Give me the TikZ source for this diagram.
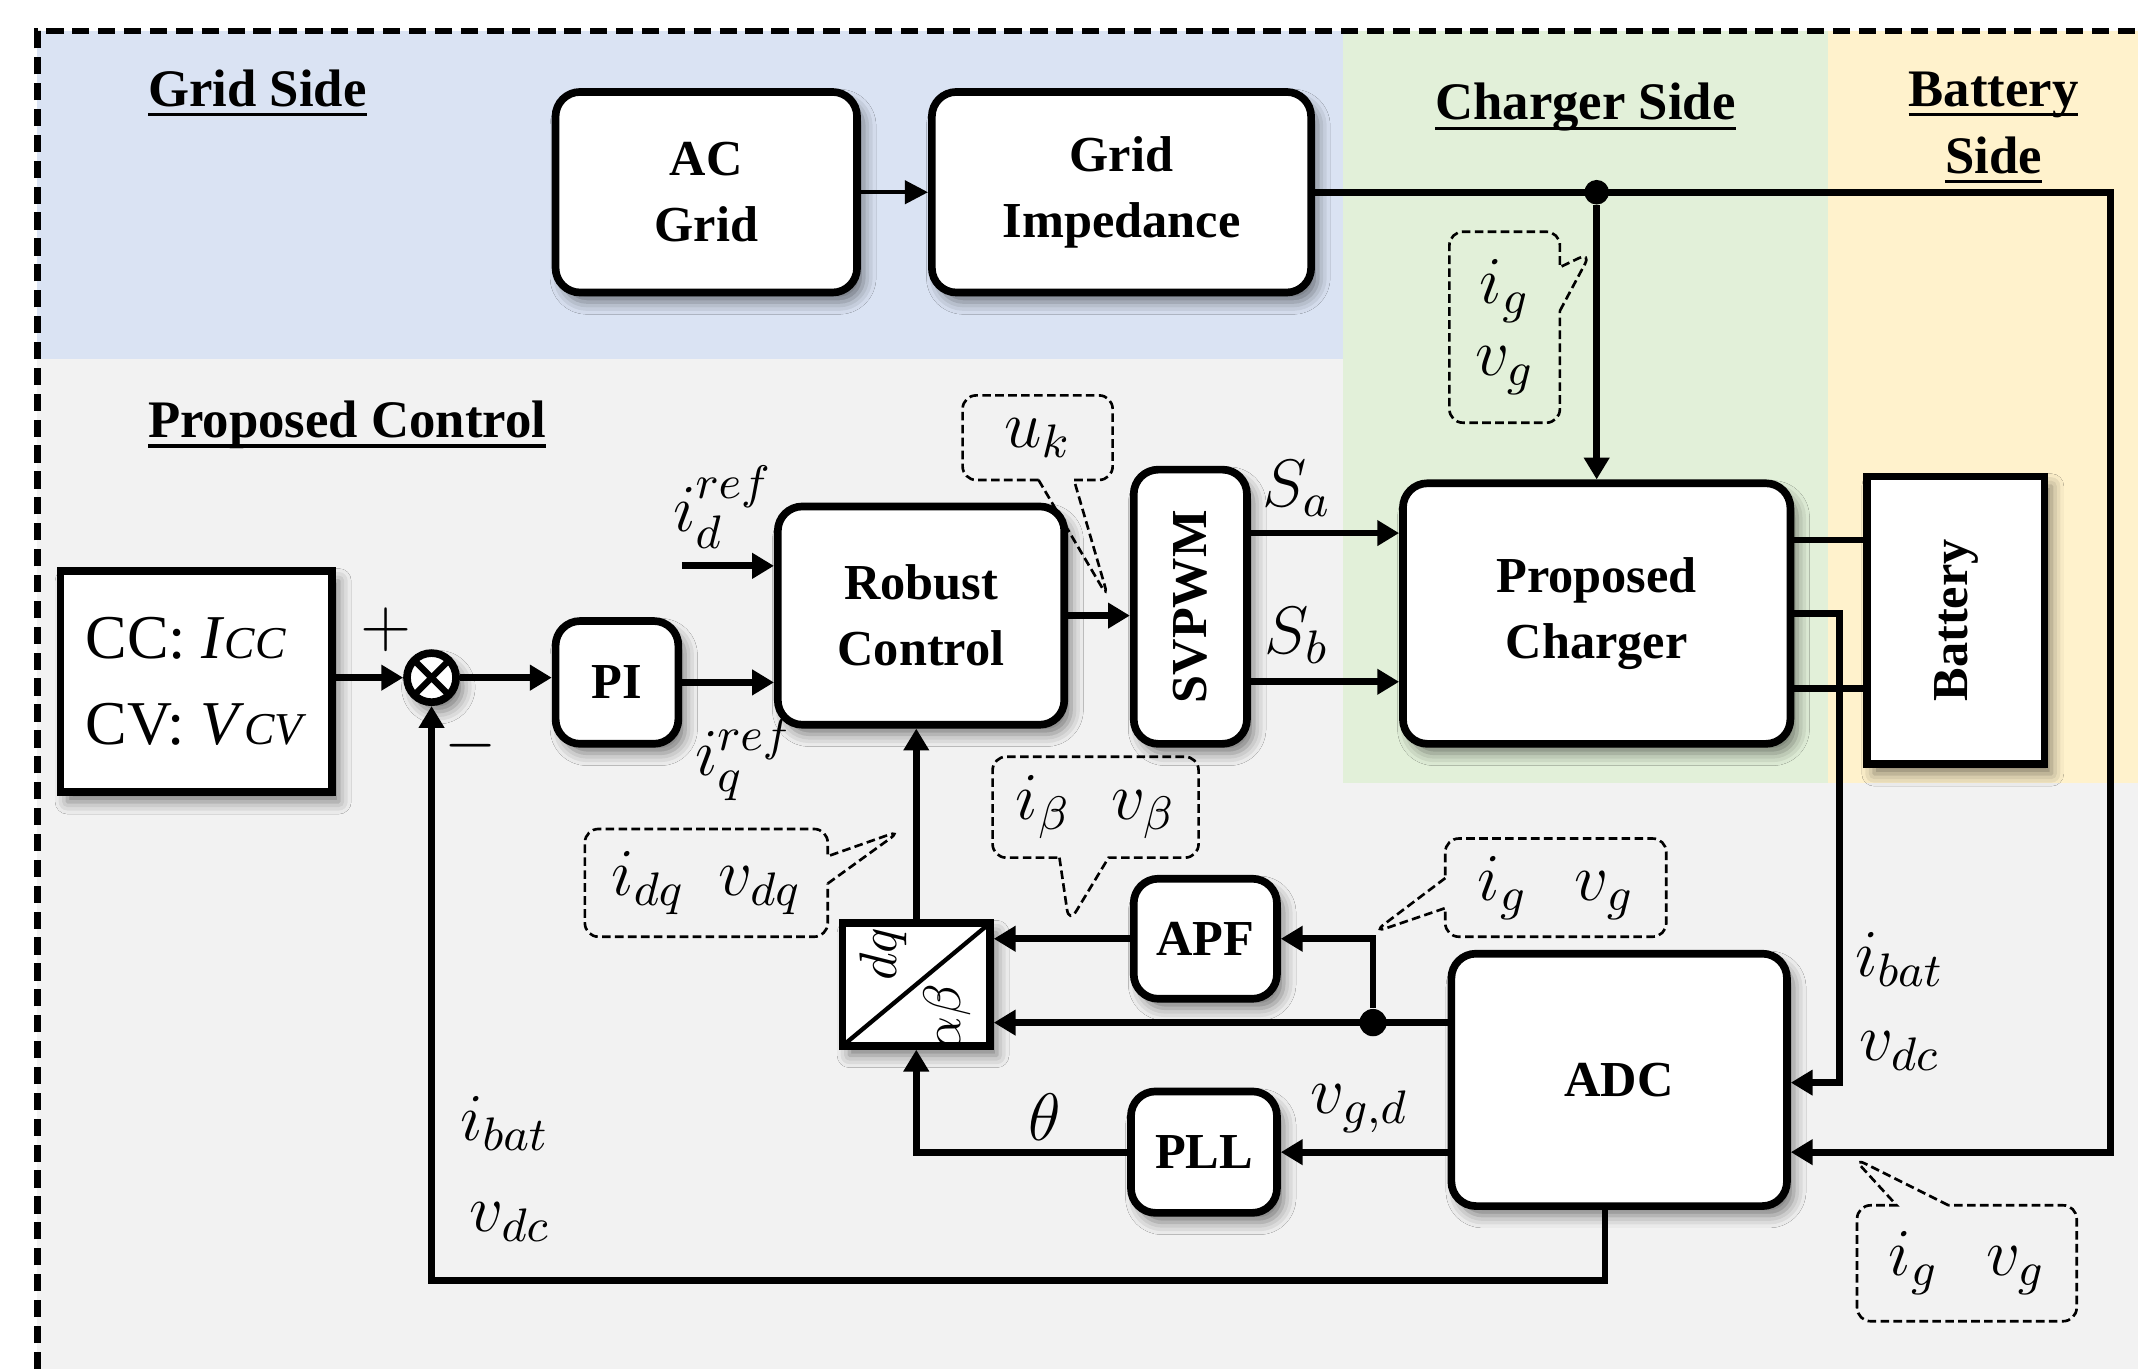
\RequirePackage{fix-cm}
\documentclass[tikz,border=0pt]{standalone}
\usepackage{fontspec}
\setmainfont{Liberation Serif}
\usepackage{graphicx}
\usetikzlibrary{arrows.meta,shapes.callouts,shadows.blur}

\definecolor{gridblue}{HTML}{DAE3F3}
\definecolor{chgreen}{HTML}{E2F0D9}
\definecolor{batyellow}{HTML}{FFF2CC}
\definecolor{ctrlgray}{HTML}{F2F2F2}

\newcommand{\ulined}[1]{\sbox0{#1}\rlap{\rule[-2.1pt]{\wd0}{0.7pt}}\usebox0}

\tikzset{
  shadowed/.style={blur shadow={shadow xshift=0.05cm, shadow yshift=-0.07cm, shadow blur radius=0.09cm, shadow opacity=50}},
  blockbox/.style={draw, line width=1.6pt, fill=white, rounded corners=0.18cm, align=center, inner sep=0pt,
     font=\fontsize{10.5}{13.7}\selectfont\bfseries, shadowed},
  sqbox/.style={blockbox, sharp corners},
  conn/.style={line width=1.4pt, -{Triangle[length=0.16cm,width=0.18cm]}},
  wire/.style={line width=1.4pt},
  jdot/.style={circle, fill=black, inner sep=0pt, minimum size=0.18cm},
  bubble/.style={rectangle callout, draw, line width=0.55pt, dash pattern=on 1.8pt off 0.9pt,
     rounded corners=0.1cm, callout pointer width=0.28cm, inner sep=0pt, font=\fontsize{14}{15}\selectfont},
  mlab/.style={font=\fontsize{14}{16}\selectfont, inner sep=0pt},
  ttl/.style={font=\fontsize{11}{13}\selectfont\bfseries, inner sep=0pt},
}

\begin{document}
\begin{tikzpicture}[x=0.01cm, y=-0.01cm]
\useasboundingbox (0,0) rectangle (1568,1004);
% background regions
\fill[ctrlgray] (27.5,23) rectangle (1568,1004);
\fill[gridblue] (27.5,23) rectangle (985,263);
\fill[chgreen] (985,23) rectangle (1341,574);
\fill[batyellow] (1341,23) rectangle (1568,574);
\draw[line width=1.3pt, dash pattern=on 3.6pt off 1.8pt] (27.5,1004) -- (27.5,23) -- (1568,23);

% titles
\node[ttl, anchor=base west] (tgrid) at (108,78) {\ulined{Grid Side}};
\node[ttl, anchor=base west] (tctrl) at (108,321) {\ulined{Proposed Control}};
\node[ttl, anchor=base west] (tchg) at (1052,88) {\ulined{Charger Side}};
\node[ttl, anchor=base] (tbat1) at (1462,78) {\ulined{Battery}};
\node[ttl, anchor=base] (tbat2) at (1462,127) {\ulined{Side}};

% blocks
\node[blockbox, minimum width=2.21cm, minimum height=1.47cm] (acgrid) at (518,141) {AC\\Grid};
\node[blockbox, minimum width=2.78cm, minimum height=1.47cm] (gridimp) at (822.5,141) {Grid\\Impedance};
\node[sqbox, minimum width=1.99cm, minimum height=1.62cm, font=\fontsize{13}{17.9}\selectfont, align=left] (cccv) at (144,500)
  {CC: \textit{I}{\fontsize{9.5}{10}\selectfont\textit{CC}}\\CV: \textit{V}{\fontsize{9.5}{10}\selectfont\textit{CV}}};
\node[circle, draw, line width=1.6pt, fill=white, minimum size=0.36cm, inner sep=0pt, shadowed,
  path picture={\draw[line width=1.3pt] (path picture bounding box.north west) -- (path picture bounding box.south east)
                 (path picture bounding box.south west) -- (path picture bounding box.north east);}] (sum) at (316.5,497) {};
\node[blockbox, minimum width=0.9cm, minimum height=0.9cm] (pi) at (452.5,500.5) {PI};
\node[blockbox, minimum width=2.1cm, minimum height=1.6cm] (robust) at (675.5,451.5) {Robust\\Control};
\node[blockbox, minimum width=0.83cm, minimum height=2.01cm] (svpwm) at (873,445) {\rotatebox{90}{SVPWM}};
\node[blockbox, minimum width=2.84cm, minimum height=1.91cm] (charger) at (1171,450) {Proposed\\Charger};
\node[sqbox, minimum width=1.3cm, minimum height=2.11cm] (battery) at (1434.5,455) {\rotatebox{90}{Battery}};
\node[sqbox, minimum width=1.08cm, minimum height=0.9cm,
  path picture={\draw[line width=0.9pt] (path picture bounding box.south west) -- (path picture bounding box.north east);}] (dq) at (672,722) {};
\node[mlab, font=\fontsize{11}{12}\selectfont, rotate=90] (dqtxt) at (648,700) {$dq$};
\node[mlab, font=\fontsize{11}{12}\selectfont, rotate=90] (abtxt) at (695,746) {$\alpha\beta$};
\node[blockbox, minimum width=1.05cm, minimum height=0.88cm] (apf) at (884,688.5) {APF};
\node[blockbox, minimum width=2.46cm, minimum height=1.85cm] (adc) at (1187.5,792) {ADC};
\node[blockbox, minimum width=1.07cm, minimum height=0.89cm] (pll) at (883,845) {PLL};

% junctions and helper coordinates
\node[jdot] (j1) at (1171,141) {};
\node[jdot, minimum size=0.2cm] (j2) at (1007,750) {};
\coordinate (rtop) at (1548,141);
\coordinate (rbot) at (1548,845);
\coordinate (cA) at (1349,450);
\coordinate (cB) at (1349,794);
\coordinate (idin) at (500,415);
\coordinate (sa) at ([yshift=0.54cm]svpwm.east);
\coordinate (sb) at ([yshift=-0.55cm]svpwm.east);
\coordinate (cb1) at ([yshift=0.54cm]charger.east);
\coordinate (cb2) at ([yshift=-0.55cm]charger.east);
\coordinate (fb) at ([xshift=-0.105cm]adc.south);

% connectors
\draw[line width=0.8pt, -{Triangle[length=0.17cm,width=0.17cm]}] (acgrid) -- (gridimp);
\draw[conn] (gridimp.east) -- (rtop) -- (rbot) -- (adc.east |- rbot);
\draw[conn] (j1) -- (charger.north);
\draw[conn] (cccv.east |- sum) -- (sum.west);
\draw[conn] (sum.east) -- (pi.west |- sum);
\draw[conn] (idin) -- (robust.west |- idin);
\draw[conn] (pi.east) -- (robust.west |- pi.east);
\draw[conn] (robust.east) -- (svpwm.west |- robust.east);
\draw[conn] (sa) -- (sa -| charger.west);
\draw[conn] (sb) -- (sb -| charger.west);
\draw[wire] (cb1) -- (cb1 -| battery.west);
\draw[wire] (cb2) -- (cb2 -| battery.west);
\draw[conn] (charger.east |- cA) -- (cA) -- (cB) -- (adc.east |- cB);
\draw[conn] (adc.west |- j2) -- (dq.east |- j2);
\draw[conn] (j2) |- (apf.east);
\draw[conn] (apf.west) -- (dq.east |- apf.west);
\draw[conn] (dq.north) -- (dq.north |- robust.south);
\draw[conn] (adc.west |- pll) -- (pll.east);
\draw[conn] (pll.west) -| (dq.south);
\draw[conn] (fb) -- ++(0,52) -| (sum.south);

% labels
\node[mlab] (plus) at (283,462) {$+$};
\node[mlab] (minus) at (345,547) {$-$};
\node[mlab] (idref) at (530,372) {$i_d^{ref}$};
\node[mlab] (iqref) at (546,557) {$i_q^{ref}$};
\node[mlab] (lsa) at (951,358) {$S_a$};
\node[mlab] (lsb) at (951,466) {$S_b$};
\node[mlab] (libat) at (1393,704) {$i_{bat}$};
\node[mlab] (lvdc) at (1393,771) {$v_{dc}$};
\node[mlab] (lvgd) at (997,813) {$v_{g,d}$};
\node[mlab] (ltheta) at (766,819) {$\theta$};
\node[mlab] (libat2) at (370,824) {$i_{bat}$};
\node[mlab] (lvdc2) at (374,896) {$v_{dc}$};

% callouts
\coordinate (pk) at (813,439);
\node[bubble, minimum width=1.1cm, minimum height=0.62cm, callout pointer width=0.26cm, callout absolute pointer={(pk)}] (cuk) at (761,321) {$u_k$};
\coordinate (pg1) at (1167,185);
\node[bubble, minimum width=0.81cm, minimum height=1.4cm, align=center, callout pointer width=0.32cm, callout absolute pointer={(pg1)}] (cg1) at (1103.5,240) {$i_g$\\$v_g$};
\coordinate (pdq) at (661,609);
\node[bubble, minimum width=1.78cm, minimum height=0.79cm, callout pointer width=0.2cm, callout absolute pointer={(pdq)}] (cdq) at (518,647.5) {$i_{dq}$\hspace{0.25cm}$v_{dq}$};
\coordinate (pb) at (784,677);
\node[bubble, minimum width=1.51cm, minimum height=0.74cm, callout pointer width=0.36cm, callout absolute pointer={(pb)}] (cb) at (803.5,592) {$i_\beta$\hspace{0.3cm}$v_\beta$};
\coordinate (pg2) at (1007,684);
\node[bubble, minimum width=1.62cm, minimum height=0.72cm, callout pointer width=0.22cm, callout absolute pointer={(pg2)}] (cg2) at (1141,651) {$i_g$\hspace{0.35cm}$v_g$};
\coordinate (pg3) at (1359,849);
\node[bubble, minimum width=1.61cm, minimum height=0.85cm, callout pointer width=0.38cm, callout absolute pointer={(pg3)}] (cg3) at (1442.5,926.5) {$i_g$\hspace{0.35cm}$v_g$};
\end{tikzpicture}
\end{document}
